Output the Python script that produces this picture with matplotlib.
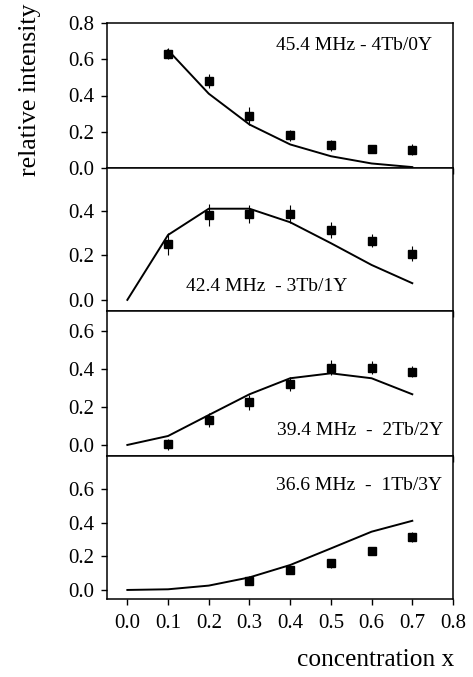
import matplotlib
matplotlib.use("Agg")
import matplotlib.pyplot as plt
import numpy as np

plt.rcParams['font.family'] = ['Liberation Serif', 'DejaVu Serif']

# concentration values
x_pts = [0.1, 0.2, 0.3, 0.4, 0.5, 0.6, 0.7]
x_line_full = [0.0, 0.1, 0.2, 0.3, 0.4, 0.5, 0.6, 0.7]

# 45.4 MHz - 4Tb/0Y
p1_y = [0.63, 0.48, 0.285, 0.18, 0.125, 0.105, 0.10]
p1_err = [0.03, 0.04, 0.05, 0.03, 0.03, 0.02, 0.03]
p1_line_x = [0.1, 0.2, 0.3, 0.4, 0.5, 0.6, 0.7]
p1_line = [0.65, 0.41, 0.24, 0.13, 0.065, 0.025, 0.005]

# 42.4 MHz - 3Tb/1Y
p2_y = [0.25, 0.38, 0.385, 0.385, 0.315, 0.267, 0.208]
p2_err = [0.05, 0.05, 0.04, 0.04, 0.035, 0.03, 0.035]
p2_line = [0.0, 0.292, 0.41, 0.41, 0.349, 0.255, 0.157, 0.075]

# 39.4 MHz - 2Tb/2Y
p3_y = [0.003, 0.131, 0.224, 0.32, 0.406, 0.406, 0.385]
p3_err = [0.03, 0.035, 0.04, 0.035, 0.04, 0.035, 0.03]
p3_line = [0.0, 0.047, 0.157, 0.266, 0.35, 0.376, 0.35, 0.266]

# 36.6 MHz - 1Tb/3Y
p4_x = [0.3, 0.4, 0.5, 0.6, 0.7]
p4_y = [0.056, 0.119, 0.159, 0.232, 0.314]
p4_err = [0.025, 0.025, 0.025, 0.025, 0.03]
p4_line = [0.0, 0.004, 0.026, 0.075, 0.149, 0.248, 0.348, 0.413]

labels = ['45.4 MHz - 4Tb/0Y', '42.4 MHz  - 3Tb/1Y',
          '39.4 MHz  -  2Tb/2Y', '36.6 MHz  -  1Tb/3Y']

fig = plt.figure(figsize=(4.73, 6.77), dpi=100)
left, right = 107 / 473, 453 / 473
tops = [23, 168, 311, 456, 599]
ylims = [(0.0, 0.8), (-0.05, 0.593), (-0.058, 0.703), (-0.054, 0.80)]
yticks = [[0.0, 0.2, 0.4, 0.6, 0.8], [0.0, 0.2, 0.4],
          [0.0, 0.2, 0.4, 0.6], [0.0, 0.2, 0.4, 0.6]]

data = [
    (x_pts, p1_y, p1_err, p1_line_x, p1_line),
    (x_pts, p2_y, p2_err, x_line_full, p2_line),
    (x_pts, p3_y, p3_err, x_line_full, p3_line),
    (p4_x, p4_y, p4_err, x_line_full, p4_line),
]
label_pos = [(0.939, 0.848, 'right'), (0.462, 0.168, 'center'),
             (0.971, 0.179, 'right'), (0.968, 0.797, 'right')]

for i in range(4):
    t, b = tops[i], tops[i + 1]
    ax = fig.add_axes([left, 1 - b / 677, right - left, (b - t) / 677])
    xp, yp, ep, xl, yl = data[i]
    ax.plot(xl, yl, color='black', lw=1.4)
    ax.errorbar(xp, yp, yerr=ep, fmt='s', color='black', ms=5.8,
                elinewidth=0.8, capsize=0)
    ax.set_xlim(-0.05, 0.8)
    ax.set_ylim(*ylims[i])
    ax.set_yticks(yticks[i])
    ax.set_yticklabels(['%.1f' % v for v in yticks[i]])
    ax.set_xticks(np.arange(0, 0.81, 0.1))
    ax.tick_params(direction='out', length=4, width=1, labelsize=15, pad=5)
    if i < 3:
        ax.tick_params(axis='x', labelbottom=False)
    else:
        ax.set_xticklabels(['%.1f' % v for v in np.arange(0, 0.81, 0.1)])
        ax.tick_params(axis='x', pad=7)
    for s in ax.spines.values():
        s.set_linewidth(1.1)
    lx, ly, ha = label_pos[i]
    ax.text(lx, ly, labels[i], transform=ax.transAxes, ha=ha, va='center',
            fontsize=14)

fig.text(30 / 473, 1 - 90 / 677, 'relative intensity', rotation=90,
         ha='center', va='center', fontsize=18.5)
fig.text(454 / 473, 1 - 660 / 677, 'concentration x', ha='right',
         va='center', fontsize=18.3)

fig.savefig('out.png', dpi=100)
